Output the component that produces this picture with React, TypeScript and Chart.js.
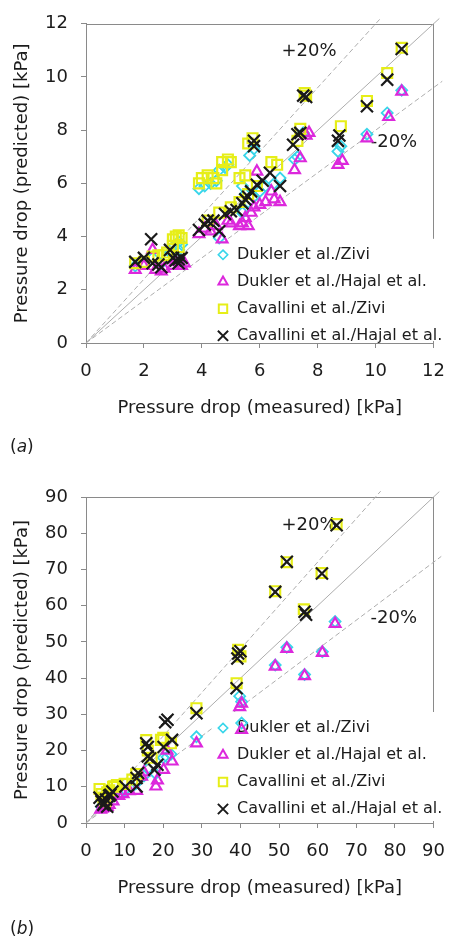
import React, { useEffect, useRef } from "react";
import { Chart, registerables } from "chart.js";

Chart.register(...registerables);

const FONT = '"DejaVu Sans", Verdana, sans-serif';
const AXIS_COLOR = "#8a8a8a";
const TEXT_COLOR = "#1c1c1c";
const REF_COLOR = "#adadad";

type Pt = [number, number];

const SERIES_NAMES = [
  "Dukler et al./Zivi",
  "Dukler et al./Hajal et al.",
  "Cavallini et al./Zivi",
  "Cavallini et al./Hajal et al.",
];

const X_TITLE = "Pressure drop (measured) [kPa]";
const Y_TITLE = "Pressure drop (predicted) [kPa]";

const A_TICKS = [0, 2, 4, 6, 8, 10, 12];
const B_TICKS = [0, 10, 20, 30, 40, 50, 60, 70, 80, 90];

// Panel (a) series
const A_DZ: Pt[] = [
  [1.7, 2.9], [2.0, 3.0], [2.3, 3.2], [2.6, 3.0], [2.9, 3.4], [3.0, 3.6], [3.1, 3.3], [3.2, 3.8], [3.3, 3.7], [3.2, 3.5],
  [3.9, 5.8], [4.1, 5.9], [4.3, 6.0], [4.5, 6.1], [4.6, 6.5], [4.8, 6.6], [4.9, 6.7], [5.4, 5.9], [5.5, 5.6], [5.4, 4.9],
  [5.6, 5.3], [5.8, 5.5], [6.0, 5.7], [6.2, 5.9], [6.5, 6.0], [6.7, 6.2], [4.6, 3.95], [5.65, 7.05], [5.8, 7.3],
  [7.2, 6.9], [7.3, 7.0], [7.5, 7.9], [8.7, 7.2], [8.8, 7.4], [9.7, 7.85], [10.4, 8.65], [10.9, 9.5],
];
const A_DH: Pt[] = [
  [1.7, 2.75], [2.0, 2.9], [2.3, 3.5], [2.4, 2.75], [2.6, 2.7], [2.7, 2.8], [3.0, 2.9], [3.2, 2.9], [3.3, 2.9], [3.4, 3.0], [3.1, 3.05],
  [3.9, 4.1], [4.1, 4.3], [4.3, 4.2], [4.5, 4.4], [4.7, 3.9], [4.9, 4.6], [5.0, 4.5], [5.3, 4.4], [5.4, 4.5], [5.6, 4.4],
  [5.5, 4.7], [5.7, 4.9], [5.8, 5.1], [6.0, 5.2], [6.2, 5.3], [6.4, 5.7], [6.5, 5.4], [6.7, 5.3], [5.9, 6.45],
  [7.2, 6.5], [7.4, 6.95], [7.7, 7.9], [7.6, 7.8], [8.7, 6.7], [8.85, 6.85], [9.7, 7.7], [10.45, 8.5], [10.9, 9.45],
];
const A_CZ: Pt[] = [
  [1.7, 3.0], [2.0, 3.05], [2.3, 3.25], [2.5, 3.3], [2.7, 3.3], [2.8, 3.4], [3.0, 3.9], [3.1, 4.0], [3.2, 4.05], [3.3, 3.95], [3.0, 3.65], [3.2, 3.6],
  [3.9, 6.0], [4.0, 6.2], [4.2, 6.3], [4.4, 6.2], [4.5, 6.0], [4.7, 6.5], [4.7, 6.8], [4.9, 6.9], [5.0, 6.8], [5.3, 6.2], [5.5, 6.3],
  [5.6, 7.5], [5.75, 7.7], [6.4, 6.8], [6.6, 6.7], [4.2, 4.6], [4.6, 4.9], [5.0, 5.1], [5.3, 5.3], [5.6, 5.6], [5.9, 5.9],
  [7.3, 7.6], [7.4, 8.05], [7.55, 9.4], [7.6, 9.3], [8.8, 8.15], [9.7, 9.1], [10.4, 10.15], [10.9, 11.1],
];
const A_CH: Pt[] = [
  [1.7, 3.05], [2.0, 3.2], [2.25, 3.9], [2.3, 3.0], [2.5, 2.95], [2.6, 2.85], [2.9, 3.5], [3.0, 3.2], [3.1, 3.1], [3.2, 3.15], [3.3, 3.2], [3.2, 3.0],
  [3.9, 4.25], [4.1, 4.45], [4.2, 4.6], [4.4, 4.6], [4.6, 4.2], [4.8, 4.85], [5.0, 4.95], [5.2, 5.0], [5.4, 5.25], [5.5, 5.4],
  [5.6, 5.5], [5.7, 5.7], [5.9, 5.95], [6.1, 6.1], [6.35, 6.4], [6.7, 5.9], [5.8, 7.6], [5.8, 7.4],
  [7.15, 7.45], [7.3, 7.85], [7.4, 7.9], [7.5, 9.3], [7.6, 9.25], [8.7, 7.6], [8.75, 7.8], [9.7, 8.9], [10.4, 9.9], [10.9, 11.05],
];

// Panel (b) series
const B_DZ: Pt[] = [
  [4, 4.5], [4.5, 5], [5, 5.5], [5.5, 6], [6, 6.5], [7, 8], [8, 8.5], [10, 9], [12, 10], [13, 11], [15, 13], [16, 15],
  [18, 13.6], [20, 18], [21, 18.2], [22, 19], [28.6, 23.8], [40.3, 27.6], [40.3, 33.5], [39.8, 35], [49, 43.6],
  [52, 48.5], [56.6, 41], [61.2, 47.3], [64.5, 55.6],
];
const B_DH: Pt[] = [
  [3.8, 3.7], [4.2, 4.0], [4.8, 4.2], [5.5, 4.5], [6, 5], [7, 6], [8.5, 7.5], [9.6, 8.0], [11.2, 8.8], [13.1, 8.9],
  [14.4, 12.8], [15, 14], [18.1, 10.1], [18.5, 11.8], [20.1, 14.7], [21, 20], [22.3, 17], [28.6, 22], [40.3, 25.7],
  [40.3, 33], [39.8, 32], [49, 43.2], [52, 48.1], [56.6, 40.6], [61.2, 47], [64.5, 55],
];
const B_CZ: Pt[] = [
  [3.5, 9.4], [4, 8], [4.5, 7], [5, 6], [5.5, 8.5], [6, 9], [7, 10], [7.3, 10.1], [8, 10.5], [10, 10.8], [12, 12],
  [13, 13.5], [15.6, 22.9], [16, 20], [17, 18], [19.4, 22.95], [20, 23.5], [22, 22], [28.6, 31.7], [39, 38.6],
  [39.4, 47.8], [40, 46], [49, 64], [52, 72], [56.4, 59], [61, 69], [64.9, 82.5],
];
const B_CH: Pt[] = [
  [3.5, 7.0], [4, 6], [4.5, 5], [4.8, 5.5], [5.2, 6.5], [5.5, 4.5], [6, 7.5], [6.3, 7.8], [6.85, 8.7], [10.2, 10.1],
  [13.1, 10.1], [13.1, 12.4], [13.5, 13.8], [15.6, 22], [16, 21], [16, 18.4], [16.6, 17.8], [17.7, 14.7], [18.5, 16.1],
  [20.1, 21], [20.5, 27.8], [21.1, 28.5], [22.3, 22.95], [28.6, 30.3], [39, 37.2], [39.2, 45.4], [39.4, 46.8],
  [40, 47.4], [49, 63.8], [52, 72.1], [56.6, 58.3], [57, 57.5], [61.1, 68.9], [64.9, 82.2],
];

// Reference lines (end points)
const A_LINE_1TO1: Pt[] = [[0, 0], [12.2, 12.2]];
const A_LINE_PLUS: Pt[] = [[0, 0], [10.2, 12.24]];
const A_LINE_MINUS: Pt[] = [[0, 0], [12.3, 9.84]];
const B_LINE_1TO1: Pt[] = [[0, 0], [91.5, 91.5]];
const B_LINE_PLUS: Pt[] = [[0, 0], [76.3, 91.6]];
const B_LINE_MINUS: Pt[] = [[0, 0], [92, 73.6]];

const STYLES = [
  { color: "#38d6ea", pointStyle: "rectRot", radius: 5.5, bw: 1.8 },
  { color: "#dc28dc", pointStyle: "triangle", radius: 6.2, bw: 2.2 },
  { color: "#e6ee18", pointStyle: "rect", radius: 7, bw: 2.2 },
  { color: "#1a1a1a", pointStyle: "crossRot", radius: 8.5, bw: 2.2 },
];

type Note = { text: string; x: number; y: number };
type PanelSpec = {
  label: string;
  max: number;
  ticks: number[];
  series: Pt[][];
  lines: Pt[][];
  notes: Note[];
  padTop: number;
  height: number;
  labelY: number;
};

function drawMarker(ctx: CanvasRenderingContext2D, style: string, x: number, y: number, r: number) {
  ctx.beginPath();
  if (style === "rectRot") {
    ctx.moveTo(x, y - r);
    ctx.lineTo(x + r, y);
    ctx.lineTo(x, y + r);
    ctx.lineTo(x - r, y);
    ctx.closePath();
  } else if (style === "triangle") {
    ctx.moveTo(x, y - r);
    ctx.lineTo(x + 0.866 * r, y + 0.5 * r);
    ctx.lineTo(x - 0.866 * r, y + 0.5 * r);
    ctx.closePath();
  } else if (style === "rect") {
    const s = r * Math.SQRT1_2;
    ctx.rect(x - s, y - s, 2 * s, 2 * s);
  } else {
    const d = r * Math.SQRT1_2;
    ctx.moveTo(x - d, y - d);
    ctx.lineTo(x + d, y + d);
    ctx.moveTo(x + d, y - d);
    ctx.lineTo(x - d, y + d);
  }
  ctx.stroke();
}

function makePlugin(spec: PanelSpec) {
  return {
    id: "overlay",
    beforeDatasetsDraw(chart: any) {
      const { ctx, chartArea: ca, scales } = chart;
      ctx.save();
      ctx.strokeStyle = AXIS_COLOR;
      ctx.lineWidth = 1;
      ctx.beginPath();
      ctx.moveTo(ca.left, Math.round(ca.top) + 0.5);
      ctx.lineTo(ca.right, Math.round(ca.top) + 0.5);
      ctx.moveTo(Math.round(ca.right) - 0.5, ca.top);
      ctx.lineTo(Math.round(ca.right) - 0.5, ca.bottom);
      ctx.stroke();
      ctx.font = `18px ${FONT}`;
      ctx.fillStyle = TEXT_COLOR;
      ctx.textBaseline = "middle";
      ctx.textAlign = "left";
      for (const n of spec.notes) {
        ctx.fillText(n.text, scales.x.getPixelForValue(n.x), scales.y.getPixelForValue(n.y));
      }
      ctx.restore();
    },
    afterDatasetDraw(chart: any, args: any) {
      if (args.index !== 4) return;
      const { ctx, chartArea: ca } = chart;
      const top = ca.top + 215;
      ctx.save();
      ctx.fillStyle = "#ffffff";
      ctx.fillRect(214, top, 458 - 214, ca.bottom - 2 - top);
      ctx.font = `16px ${FONT}`;
      ctx.textBaseline = "middle";
      ctx.textAlign = "left";
      SERIES_NAMES.forEach((name, i) => {
        const y = top + 16 + 27 * i;
        const st = STYLES[i];
        ctx.strokeStyle = st.color;
        ctx.lineWidth = st.bw * 0.9;
        drawMarker(ctx, st.pointStyle, 223, y, st.radius * 0.85);
        ctx.fillStyle = TEXT_COLOR;
        ctx.fillText(name, 237, y);
      });
      ctx.restore();
    },
    afterDraw(chart: any) {
      const { ctx } = chart;
      ctx.save();
      ctx.fillStyle = TEXT_COLOR;
      ctx.textBaseline = "middle";
      ctx.textAlign = "left";
      let x = 10;
      const y = spec.labelY;
      ctx.font = `17px ${FONT}`;
      ctx.fillText("(", x, y);
      x += ctx.measureText("(").width;
      ctx.font = `italic 17px ${FONT}`;
      ctx.fillText(spec.label, x, y);
      x += ctx.measureText(spec.label).width;
      ctx.font = `17px ${FONT}`;
      ctx.fillText(")", x, y);
      ctx.restore();
    },
  };
}

function buildConfig(spec: PanelSpec): any {
  const toXY = (pts: Pt[]) => pts.map(([x, y]) => ({ x, y }));
  const pointSets = spec.series.map((pts, i) => ({
    label: SERIES_NAMES[i],
    data: toXY(pts),
    showLine: false,
    pointStyle: STYLES[i].pointStyle,
    pointRadius: STYLES[i].radius,
    pointBorderWidth: STYLES[i].bw,
    borderColor: STYLES[i].color,
    backgroundColor: "rgba(0,0,0,0)",
    pointBackgroundColor: "rgba(0,0,0,0)",
    order: 4 - i,
  }));
  const lineSets = spec.lines.map((pts, i) => ({
    label: "ref" + i,
    data: toXY(pts),
    showLine: true,
    pointRadius: 0,
    borderColor: REF_COLOR,
    borderWidth: 1,
    borderDash: i === 0 ? [] : [5, 3],
    clip: false,
    order: 10,
  }));
  const tickFont = { family: FONT, size: 18 };
  const common = (ticks: number[]) => ({
    type: "linear",
    min: 0,
    max: spec.max,
    afterBuildTicks: (s: any) => {
      s.ticks = ticks.map((v) => ({ value: v }));
    },
    grid: { drawOnChartArea: false, drawTicks: true, tickLength: 5, color: AXIS_COLOR },
    border: { display: true, color: AXIS_COLOR, width: 1 },
  });
  return {
    type: "scatter",
    data: { datasets: [...pointSets, ...lineSets] },
    options: {
      responsive: false,
      animation: false,
      devicePixelRatio: 1,
      layout: { padding: { left: 0, right: 13, top: spec.padTop, bottom: 37 } },
      plugins: { legend: { display: false }, tooltip: { enabled: false } },
      scales: {
        x: {
          ...common(spec.ticks),
          ticks: { font: tickFont, color: TEXT_COLOR, padding: 13, maxRotation: 0, autoSkip: false },
          title: { display: true, text: X_TITLE, font: tickFont, color: TEXT_COLOR, padding: { top: 0, bottom: 4 } },
          afterFit: (s: any) => {
            s.height = 80;
          },
        },
        y: {
          ...common(spec.ticks),
          ticks: { font: tickFont, color: TEXT_COLOR, padding: 13, autoSkip: false },
          title: { display: true, text: Y_TITLE, font: tickFont, color: TEXT_COLOR, padding: { top: 12, bottom: 0 } },
          afterFit: (s: any) => {
            s.width = 86;
          },
        },
      },
    },
    plugins: [makePlugin(spec)],
  };
}

const PANEL_A: PanelSpec = {
  label: "a",
  max: 12,
  ticks: A_TICKS,
  series: [A_DZ, A_DH, A_CZ, A_CH],
  lines: [A_LINE_1TO1, A_LINE_PLUS, A_LINE_MINUS],
  notes: [
    { text: "+20%", x: 6.75, y: 10.98 },
    { text: "-20%", x: 9.83, y: 7.54 },
  ],
  padTop: 15,
  height: 460,
  labelY: 448,
};

const PANEL_B: PanelSpec = {
  label: "b",
  max: 90,
  ticks: B_TICKS,
  series: [B_DZ, B_DH, B_CZ, B_CH],
  lines: [B_LINE_1TO1, B_LINE_PLUS, B_LINE_MINUS],
  notes: [
    { text: "+20%", x: 50.6, y: 82.2 },
    { text: "-20%", x: 73.7, y: 56.6 },
  ],
  padTop: 37,
  height: 480,
  labelY: 470,
};

function Panel({ spec, top }: { spec: PanelSpec; top: number }) {
  const ref = useRef<HTMLCanvasElement>(null);
  useEffect(() => {
    const chart = new Chart(ref.current as HTMLCanvasElement, buildConfig(spec));
    return () => chart.destroy();
  }, [spec]);
  return (
    <canvas
      ref={ref}
      width={458}
      height={spec.height}
      style={{ position: "absolute", left: 0, top, width: 458, height: spec.height, display: "block" }}
    />
  );
}

export default function App() {
  return (
    <div style={{ position: "absolute", left: 0, top: 0, width: 458, height: 940, background: "#ffffff", overflow: "hidden" }}>
      <Panel spec={PANEL_A} top={0} />
      <Panel spec={PANEL_B} top={460} />
    </div>
  );
}
